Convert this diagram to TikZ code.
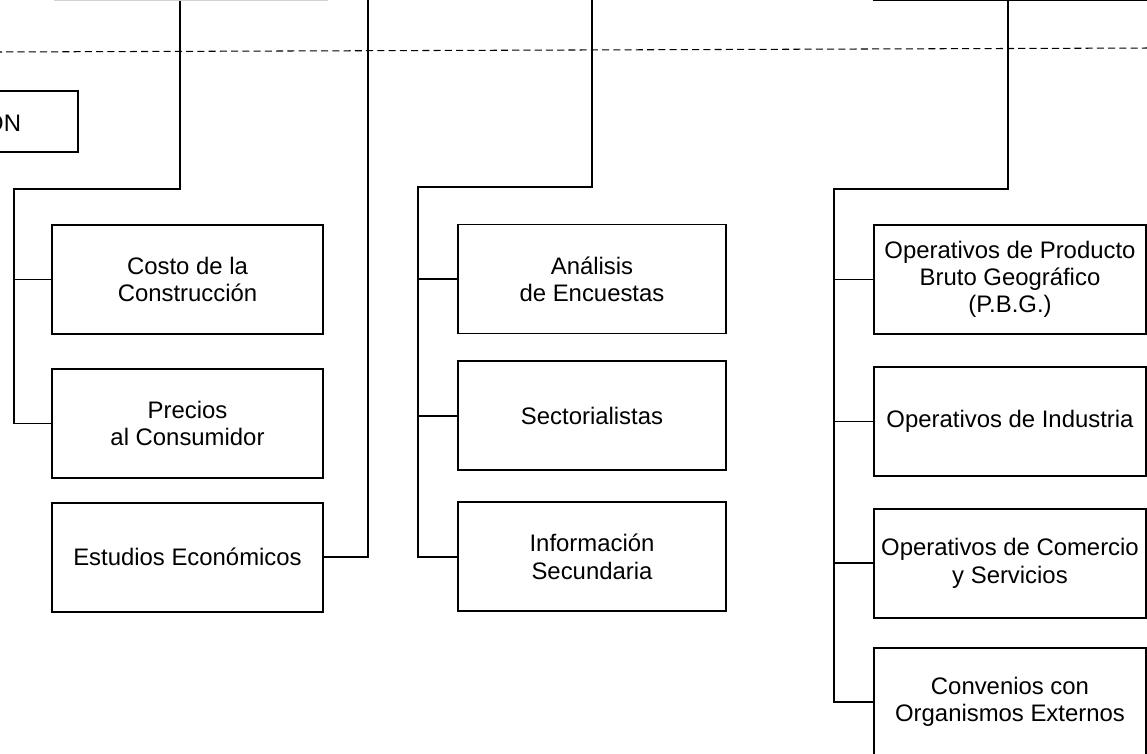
\documentclass[tikz,border=0pt]{standalone}
\usepackage{fontspec}
\setmainfont{Liberation Sans}
\usetikzlibrary{positioning}
\tikzset{
unit/.style={draw, line width=1.1pt, minimum width=5.42cm, minimum height=2.18cm, align=center, inner sep=0pt, font=\fontsize{13.6}{15.4}\selectfont}, % boxes of the chart
link/.style={line width=1pt}, % lines between boxes
}

\begin{document}
\begin{tikzpicture}[x=0.02cm, y=-0.02cm]
  \useasboundingbox (0,0) rectangle (1147,754);
  \clip (0,0) rectangle (1147,754);

  % boxes cut off at the edges
  \node[draw=gray!35, line width=0.5pt, minimum width=5.46cm, minimum height=2cm, anchor=south] (topL) at (190.5,0.5) {};
  \node[draw, line width=1.4pt, minimum width=6.6cm, minimum height=2cm, anchor=south west] (topR) at (873,1) {};
  \node[draw, line width=1.1pt, anchor=east, minimum height=1.22cm, text width=3cm, align=right, inner xsep=1.14cm, font=\fontsize{13.6}{15.4}\selectfont] (dirN) at (79,121.5) {ÓN};

  \draw[dashed, line width=0.6pt, dash pattern=on 4pt off 2.4pt] (-5,52) -- (1152,48);

  % left column
  \node[unit] (costo) at (187.5,279.5) {Costo de la\\Construcción};
  \node[unit, below=0.66cm of costo] (precios) {Precios\\al Consumidor};
  \node[unit, below=0.46cm of precios] (estudios) {Estudios Económicos};

  % middle column
  \node[unit, minimum width=5.36cm] (analisis) at (592,279) {Análisis\\de Encuestas};
  \node[unit, minimum width=5.36cm, below=0.52cm of analisis] (sector) {Sectorialistas};
  \node[unit, minimum width=5.36cm, below=0.6cm of sector] (infosec) {Información\\Secundaria};

  % right column
  \node[unit, minimum width=5.44cm] (pbg) at (1010,279.5) {Operativos de Producto\\Bruto Geográfico\\(P.B.G.)};
  \node[unit, minimum width=5.44cm, below=0.62cm of pbg] (industria) {Operativos de Industria};
  \node[unit, minimum width=5.44cm, below=0.62cm of industria] (comercio) {Operativos de Comercio\\y Servicios};
  \node[unit, minimum width=5.44cm, below=0.56cm of comercio] (convenios) {Convenios con\\Organismos Externos};

  \coordinate (jL) at (180,189);
  \coordinate (bL) at (14,189);
  \coordinate (upE) at (368,-10);
  \coordinate (upM) at (592,-10);
  \coordinate (jM) at (592,187);
  \coordinate (bM) at (418,187);
  \coordinate (jR) at (1008,189);
  \coordinate (bR) at (834,189);

  \draw[link] (jL |- topL.south) -- (jL) -- (bL) |- (precios.west);
  \draw[link] (bL |- costo.west) -- (costo.west);
  \draw[link] (estudios.east) -| (upE);

  \draw[link] (upM) -- (jM) -- (bM) |- (infosec.west);
  \draw[link] (bM |- analisis.west) -- (analisis.west);
  \draw[link] (bM |- sector.west) -- (sector.west);

  \draw[link] (jR |- topR.south) -- (jR) -- (bR) |- (convenios.west);
  \draw[link] (bR |- pbg.west) -- (pbg.west);
  \draw[link] (bR |- industria.west) -- (industria.west);
  \draw[link] (bR |- comercio.west) -- (comercio.west);
\end{tikzpicture}
\end{document}
